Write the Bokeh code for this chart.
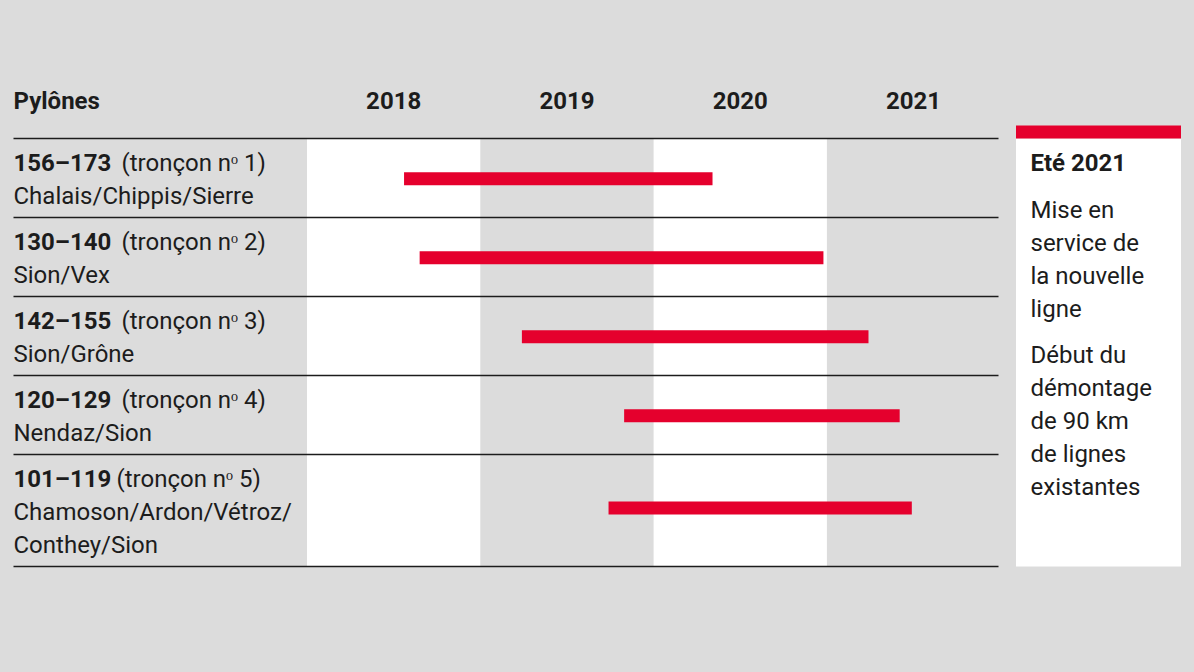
from bokeh.plotting import figure
from bokeh.models import Range1d
from bokeh.core.properties import value
from bokeh.embed import file_html
from bokeh.resources import INLINE

# ---------------- data ----------------
header = "Pylônes"
years = ["2018", "2019", "2020", "2021"]
year_start = [2018, 2019, 2020, 2021]
pylons = ["156–173", "130–140", "142–155", "120–129", "101–119"]
troncons = ["(tronçon nᵒ 1)", "(tronçon nᵒ 2)", "(tronçon nᵒ 3)",
            "(tronçon nᵒ 4)", "(tronçon nᵒ 5)"]
places = [["Chalais/Chippis/Sierre"], ["Sion/Vex"], ["Sion/Grône"],
          ["Nendaz/Sion"], ["Chamoson/Ardon/Vétroz/", "Conthey/Sion"]]
starts = [2018.56, 2018.65, 2019.24, 2019.83, 2019.74]
ends = [2020.34, 2020.98, 2021.24, 2021.42, 2021.49]
legend_title = "Eté 2021"
legend_blocks = [["Mise en", "service de", "la nouvelle", "ligne"],
                 ["Début du", "démontage", "de 90 km", "de lignes", "existantes"]]

# ---------------- style / layout ----------------
BG = "#dcdcdc"
RED = "#e5002d"
INK = "#1c1c1c"
FONT = value("Roboto")
FS = "24px"
W, H = 1186, 660
OFF = 0
COL0, COLW = 306.5, 173.3


def X(px):
    """page pixel -> year coordinate"""
    return 2018 + (px - COL0) / COLW


p = figure(width=W, height=H, output_backend="svg", toolbar_location=None,
           x_range=Range1d(X(OFF), X(OFF + W)),
           y_range=Range1d(OFF + H, OFF),
           x_axis_type=None, y_axis_type=None,
           min_border=0, background_fill_color=BG, border_fill_color=BG,
           outline_line_color=None)
p.grid.visible = False

# row geometry
top = 138
row_tops, row_bots = [], []
for pl in places:
    h = 46 + 33 * len(pl)
    row_tops.append(top)
    row_bots.append(top + h)
    top += h
table_bottom = row_bots[-1]

# white year columns
wx = [ys for i, ys in enumerate(year_start) if i % 2 == 0]
p.quad(left=wx, right=[v + 1 for v in wx], top=[138] * len(wx),
       bottom=[table_bottom] * len(wx), fill_color="white", line_color=None)

# row separator lines
ys_lines = [138] + row_bots
p.segment(x0=[X(13)] * len(ys_lines), x1=[X(998)] * len(ys_lines),
          y0=ys_lines, y1=ys_lines, line_color=INK, line_width=1.4)

# bars
bar_y = [(t + b) / 2 + (0.8 if len(pl) == 1 else -2.5)
         for t, b, pl in zip(row_tops, row_bots, places)]
p.hbar(y=bar_y, left=starts, right=ends, height=13, fill_color=RED,
       line_color=None)

# header texts
p.text(x=[X(13)], y=[100], text=[header], text_font=FONT, text_font_size=FS,
       text_font_style="bold", text_color=INK, text_baseline="middle",
       text_align="left")
p.text(x=[v + 0.5 for v in year_start], y=[100] * 4, text=years,
       text_font=FONT, text_font_size=FS, text_font_style="bold",
       text_color=INK, text_baseline="middle", text_align="center")

# row labels
p.text(x=[X(13)] * len(pylons), y=[t + 24 for t in row_tops], text=pylons,
       text_font=FONT, text_font_size=FS, text_font_style="bold",
       text_color=INK, text_baseline="middle", text_align="left")
tx = [X(121)] * 4 + [X(116)]
p.text(x=tx, y=[t + 24 for t in row_tops], text=troncons,
       text_font=FONT, text_font_size=FS, text_color=INK,
       text_baseline="middle", text_align="left")
px_, py_, pt_ = [], [], []
for t, pl in zip(row_tops, places):
    for k, s in enumerate(pl):
        px_.append(X(13))
        py_.append(t + 24 + 33 * (k + 1))
        pt_.append(s)
p.text(x=px_, y=py_, text=pt_, text_font=FONT, text_font_size=FS,
       text_color=INK, text_baseline="middle", text_align="left")

# legend box
p.quad(left=[X(1015.5)], right=[X(1180.5)], top=[138], bottom=[table_bottom],
       fill_color="white", line_color=None)
p.quad(left=[X(1015.5)], right=[X(1180.5)], top=[125], bottom=[138],
       fill_color=RED, line_color=None)
p.text(x=[X(1030)], y=[162], text=[legend_title], text_font=FONT,
       text_font_size=FS, text_font_style="bold", text_color=INK,
       text_baseline="middle", text_align="left")
lx, ly, lt = [], [], []
yy = 209
for bi, block in enumerate(legend_blocks):
    if bi > 0:
        yy += 13
    for s in block:
        lx.append(X(1030))
        ly.append(yy)
        lt.append(s)
        yy += 33
p.text(x=lx, y=ly, text=lt, text_font=FONT, text_font_size=FS,
       text_color=INK, text_baseline="middle", text_align="left")

html = file_html(p, INLINE)
html = html.replace("<head>", "<head><style>body{background:%s}</style>" % BG, 1)
open("out.html", "w").write(html)
